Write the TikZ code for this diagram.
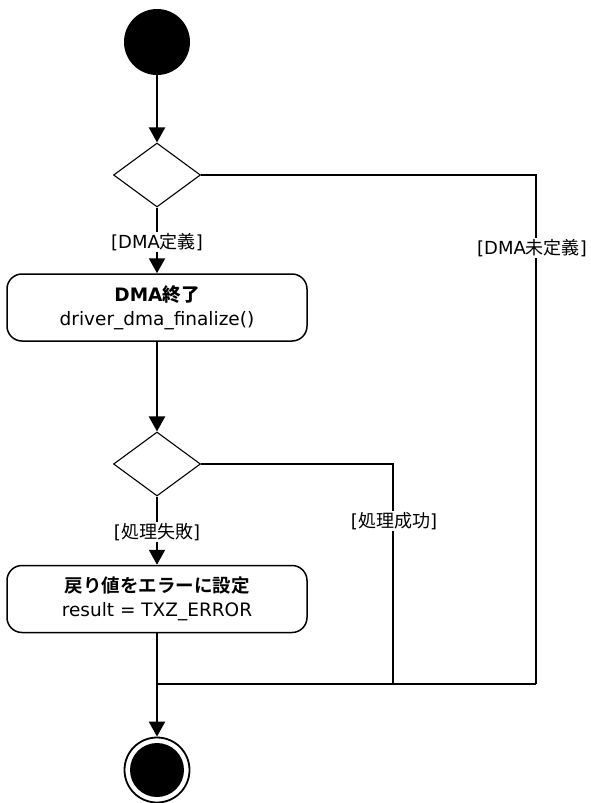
\documentclass[tikz,border=0pt]{standalone}
\usepackage{fontspec}
\setmainfont{DejaVu Sans}
\newfontfamily\jp{Noto Sans CJK JP}
\newfontfamily\jpb{Noto Sans CJK JP Bold}
\usetikzlibrary{shapes.geometric,arrows.meta}
\begin{document}
\begin{tikzpicture}[x=1pt,y=-1pt,
  conn/.style={line width=2.2pt},
  arr/.style={conn,-{Triangle[width=16pt,length=15pt]}},
  dec/.style={diamond,draw,line width=1.1pt,minimum width=87pt,minimum height=64pt,inner sep=0pt},
  actbox/.style={draw,line width=1.5pt,rounded corners=15pt,minimum width=300pt,minimum height=67pt,align=center,font=\fontsize{18.5}{24}\selectfont},
  lbl/.style={fill=white,inner sep=1.5pt,font=\fontsize{18}{20}\selectfont}]
\useasboundingbox (0,0) rectangle (590,803);
\node[circle,fill=black,minimum size=66pt,inner sep=0pt] (start) at (157,42) {};
\node[dec] (d1) at (157,175) {};
\node[actbox] (b1) at (157,307.5) {\textbf{DMA{\jpb 終了}}\\driver\_dma\_finalize()};
\node[dec] (d2) at (157,464) {};
\node[actbox] (b2) at (157,599) {{\jpb 戻り値をエラーに設定}\\result = TXZ\_ERROR};
\coordinate (j) at (157,684);
\coordinate (j2) at (393,684);
\coordinate (j3) at (536,684);
\node[circle,draw,line width=1.8pt,minimum size=65pt,inner sep=0pt] (end) at (157,770) {};
\fill (end.center) circle (27pt);
\draw[arr] (start) -- (d1);
\draw[arr] (d1) -- (b1);
\draw[arr] (b1) -- (d2);
\draw[arr] (d2) -- (b2);
\draw[conn] (d1.east) -| (j3);
\draw[conn] (d2.east) -| (j2);
\draw[conn] (b2.south) -- (j);
\draw[conn] (j) -- (j3);
\draw[arr] (j) -- (end);
\node[lbl] (l1) at (157,242) {[DMA{\jp 定義}]};
\node[lbl] (l2) at (532,248) {[DMA{\jp 未定義}]};
\node[lbl] (l3) at (157,532) {[{\jp 処理失敗}]};
\node[lbl] (l4) at (394,521) {[{\jp 処理成功}]};
\end{tikzpicture}
\end{document}
